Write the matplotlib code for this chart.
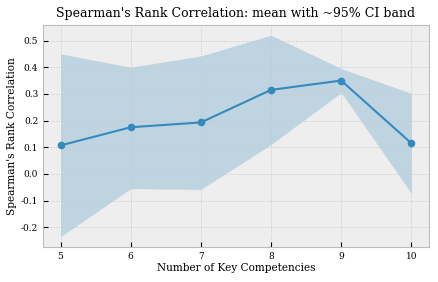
import matplotlib
matplotlib.use("Agg")
import matplotlib.pyplot as plt

plt.style.use("bmh")
plt.rcParams['font.family'] = ['DejaVu Serif']
plt.rcParams['axes.unicode_minus'] = False

n_kc = [5, 6, 7, 8, 9, 10]
mean_rho = [0.107, 0.175, 0.193, 0.315, 0.350, 0.115]
ci_upper = [0.450, 0.400, 0.442, 0.520, 0.395, 0.302]
ci_lower = [-0.235, -0.055, -0.058, 0.110, 0.305, -0.073]

fig, ax = plt.subplots(figsize=(4.39, 2.82), dpi=100)
ax.fill_between(n_kc, ci_lower, ci_upper, color="#348ABD", alpha=0.25, linewidth=0)
ax.plot(n_kc, mean_rho, marker="o", color="#348ABD", linewidth=1.5, markersize=4.5)
ax.set_title("Spearman's Rank Correlation: mean with ~95% CI band", fontsize=9)
ax.set_xlabel("Number of Key Competencies", fontsize=7.6, labelpad=2)
ax.set_ylabel("Spearman's Rank Correlation", fontsize=7.6, labelpad=3)
ax.tick_params(labelsize=6.5)
ax.grid(True, linestyle=':', color='#c8c8c8', linewidth=0.7)
ax.set_xticks(n_kc)
fig.subplots_adjust(left=0.098, right=0.977, top=0.911, bottom=0.125)
fig.savefig("out.png", dpi=100)
